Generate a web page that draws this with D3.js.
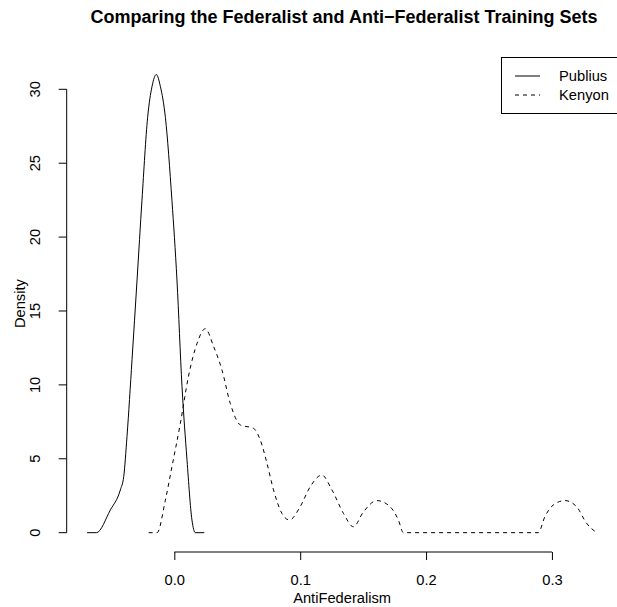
<!DOCTYPE html>
<html><head><meta charset="utf-8">
<script src="https://cdn.jsdelivr.net/npm/d3@7"></script>
<style>body{margin:0;background:#fff;} text{font-family:"Liberation Sans",Arial,Helvetica,sans-serif;}</style>
</head><body><svg id="c" width="617" height="607"></svg>
<script>
const title = "Comparing the Federalist and Anti\u2212Federalist Training Sets";
const xLabel = "AntiFederalism";
const yLabel = "Density";
const xTicks = [0, 0.1, 0.2, 0.3];
const xTickLabels = ["0.0", "0.1", "0.2", "0.3"];
const yTicks = [0, 5, 10, 15, 20, 25, 30];
const seriesNames = ["Publius", "Kenyon"];

const publiusX = [-0.0693, -0.0619, -0.0508, -0.0429, -0.0402, -0.0376, -0.0336, -0.0296, -0.0257, -0.0212, -0.0177, -0.0143, -0.0111, -0.0071, -0.0019, 0.0021, 0.0061, 0.0101, 0.0140, 0.0167, 0.0238];
const publiusY = [0, 0, 1.54, 2.89, 3.79, 6.5, 11.7, 17.1, 22.5, 28.1, 30.2, 31.0, 30.2, 28.1, 22.5, 17.1, 9.9, 4.9, 0.86, 0, 0];

const kenyonX = [-0.0204, -0.0137, -0.0071, -0.0018, 0.0048, 0.0113, 0.0180, 0.0246, 0.0312, 0.0379, 0.0444, 0.0524, 0.0629, 0.0683, 0.0736, 0.0788, 0.0855, 0.0915, 0.1000, 0.1079, 0.1172, 0.1252, 0.1344, 0.1423, 0.1502, 0.1609, 0.1714, 0.1780, 0.1820, 0.2891, 0.2944, 0.3010, 0.3103, 0.3196, 0.3275, 0.3355];
const kenyonY = [0, 0, 2.2, 4.5, 7.4, 10.6, 12.8, 13.8, 12.6, 11.0, 8.76, 7.29, 7.06, 6.27, 4.7, 2.9, 1.3, 0.86, 1.76, 3.1, 3.9, 2.9, 1.3, 0.4, 1.4, 2.17, 1.76, 0.86, 0, 0, 1.08, 1.87, 2.17, 1.76, 0.64, 0];

const svg = d3.select("#c");
const x = d3.scaleLinear().domain([-0.0855, 0.3517]).range([66.7, 617]);
const y = d3.scaleLinear().domain([-1.24, 32.24]).range([551, 56.2]);
const FS = 14.7;

// title
svg.append("text").attr("x", 344).attr("y", 23).attr("text-anchor", "middle")
  .attr("font-weight", "bold").attr("font-size", 18).text(title);

// x axis
const xAxis = d3.axisBottom(x).tickValues(xTicks).tickFormat((d,i)=>xTickLabels[i]).tickSize(8).tickSizeOuter(0);
const gx = svg.append("g").attr("transform", "translate(0,552)").call(xAxis);
gx.select(".domain").attr("d", `M${x(xTicks[0])},0H${x(xTicks[xTicks.length-1])}`);
gx.selectAll("text").attr("font-size", FS).attr("fill", "#000").attr("y", 33).attr("dy", 0)
  .style("font-family", "Liberation Sans, Arial, sans-serif");
gx.selectAll("line,path").attr("stroke", "#000");

// y axis
const yAxis = d3.axisLeft(y).tickValues(yTicks).tickSize(8).tickSizeOuter(0);
const gy = svg.append("g").attr("transform", "translate(66.7,0)").call(yAxis);
gy.select(".domain").attr("d", `M0,${y(yTicks[0])}V${y(yTicks[yTicks.length-1])}`);
gy.selectAll("line,path").attr("stroke", "#000");
gy.selectAll(".tick").attr("transform", null);
gy.selectAll(".tick line").attr("transform", d => `translate(0,${y(d)})`);
gy.selectAll("text").attr("font-size", FS).attr("fill", "#000")
  .style("font-family", "Liberation Sans, Arial, sans-serif")
  .attr("text-anchor", "middle").attr("x", 0).attr("y", 0).attr("dy", 0)
  .attr("transform", d => `translate(-26.5,${y(d)}) rotate(-90)`);

// axis labels
svg.append("text").attr("x", x(0.1333)).attr("y", 603).attr("text-anchor", "middle").attr("font-size", FS).text(xLabel);
svg.append("text").attr("transform", `translate(25,${y(15.5)}) rotate(-90)`).attr("text-anchor", "middle").attr("font-size", FS).text(yLabel);

// curves
const line = d3.line().x(d=>x(d[0])).y(d=>y(d[1])).curve(d3.curveMonotoneX);
svg.append("path").datum(publiusX.map((v,i)=>[v, publiusY[i]])).attr("d", line)
  .attr("fill", "none").attr("stroke", "#000").attr("stroke-width", 1);
svg.append("path").datum(kenyonX.map((v,i)=>[v, kenyonY[i]])).attr("d", line)
  .attr("fill", "none").attr("stroke", "#000").attr("stroke-width", 1).attr("stroke-dasharray", "4,4");

// legend (right border falls outside the picture, as in the reference)
const lg = svg.append("g");
lg.append("rect").attr("x", 501.5).attr("y", 57.5).attr("width", 120).attr("height", 56)
  .attr("fill", "#fff").attr("stroke", "#000");
seriesNames.forEach((n,i)=>{
  const yy = 76 + i*19;
  lg.append("line").attr("x1", 515).attr("x2", 540).attr("y1", yy).attr("y2", yy)
    .attr("stroke", "#000").attr("stroke-dasharray", i ? "4,4" : null);
  lg.append("text").attr("x", 559).attr("y", yy + 5).attr("font-size", FS).text(n);
});
</script></body></html>
